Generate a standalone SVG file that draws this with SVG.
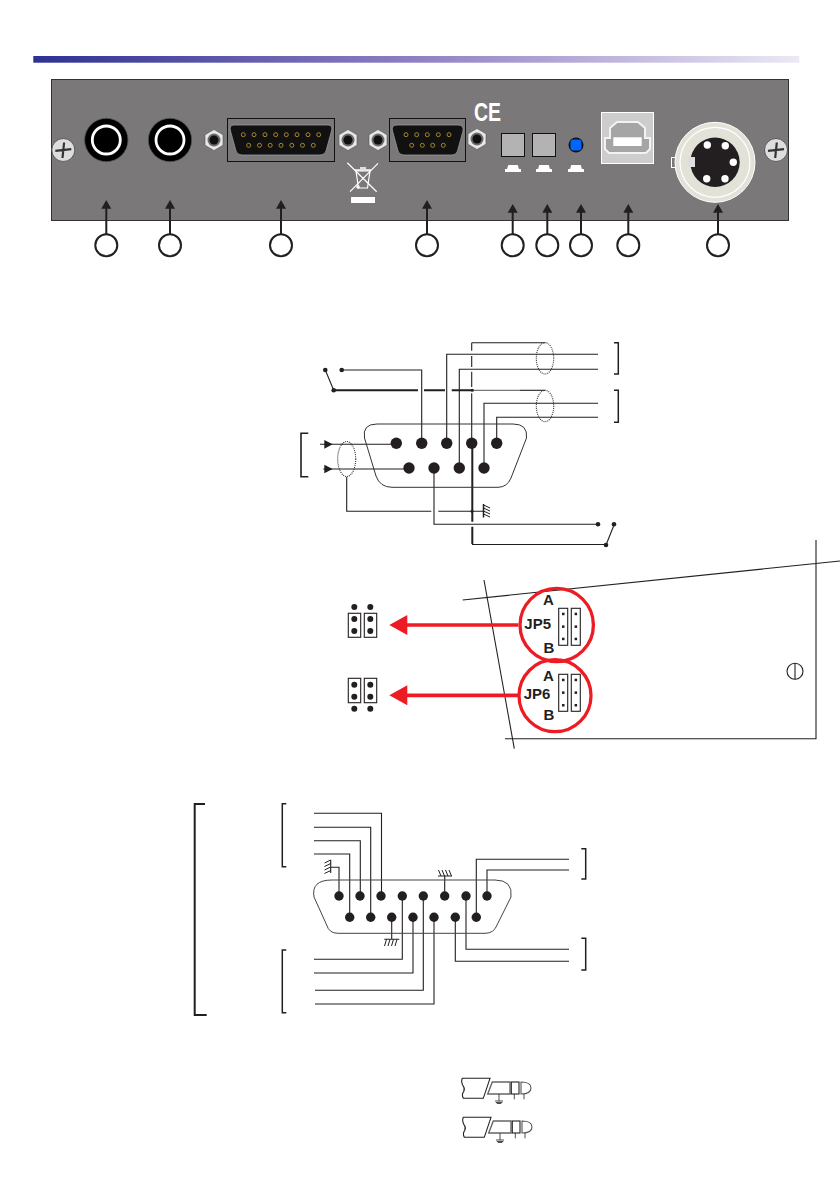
<svg xmlns="http://www.w3.org/2000/svg" xmlns:xlink="http://www.w3.org/1999/xlink" width="840" height="1192" viewBox="0 0 840 1192">
<style>
.w{fill:none;stroke:#231f20;stroke-width:1.100}
.tk{fill:none;stroke:#231f20;stroke-width:2}
.br{fill:none;stroke:#231f20;stroke-width:1.500}
.sh{fill:none;stroke:#333;stroke-width:1.100;stroke-dasharray:1 1}
.d{fill:#231f20}
.call{fill:none;stroke:#231f20;stroke-width:2}
.callbg{fill:#fff;stroke:#231f20;stroke-width:2}
.red{fill:none;stroke:#ed1c24;stroke-width:3.300}
.lab{font-family:"Liberation Sans",Arial,sans-serif;font-weight:700;font-size:15px;fill:#231f20;text-anchor:middle}
.g{fill:none;stroke:#231f20;stroke-width:1}
.pn{fill:#111;stroke:#a8862f;stroke-width:1}
.hx{fill:#e8e8e8;stroke:#555;stroke-width:.6}
.m{fill:#fff}
</style>
<defs>
<linearGradient id="bar" x1="0" x2="1" y1="0" y2="0">
<stop offset="0" stop-color="#2e3192"/><stop offset=".5" stop-color="#8f80c4"/><stop offset="1" stop-color="#ece8f5"/>
</linearGradient>
<g id="nut"><polygon class="hx" points="0,-10.5 9,-5.2 9,5.2 0,10.5 -9,5.2 -9,-5.2"/><circle r="6.500" fill="#6a6a6a"/><circle r="4.500" fill="#111"/></g>
<g id="screw"><circle r="11.500" fill="#ddd" stroke="#444" stroke-width=".8"/><path d="M-8,.8L8,-.8M.8,-7.500L-.8,8" stroke="#333" stroke-width="2.200" fill="none"/></g>
<g id="jack"><circle r="21.700" fill="#000" stroke="#555" stroke-width=".8"/><circle r="14" fill="#000" stroke="#fff" stroke-width="2.800"/></g>
<g id="btnmark"><path class="m" d="M3.300,0H12.700L14,4H16V7H0V4H2Z"/></g>
<path id="up" d="M0,0L5,8.700H-5Z" fill="#231f20"/>
<g id="plug">
<path d="M0,0H27.700L21,20H1Q-1,16 1.500,13Q3,10 .5,7Q-1.500,3 0,0Z" class="w"/>
<path d="M30,3.700H47.700V15.700H25.400Z" fill="none" stroke="#666" stroke-width="1.400"/>
<rect x="49" y="3.700" width="7.700" height="12" class="w"/>
<path d="M58.700,3.700Q68.700,3.700 68.700,9.700Q68.700,15.700 58.700,15.700Z" fill="none" stroke="#555" stroke-width="1.100"/>
<path d="M36.700,15.700V22.700M32.700,22.700H40.700M33.500,24.200H40M34.500,25.200H39M52,15.700V21M61.700,15.700V21" class="g" style="stroke-width:.8"/>
</g>
</defs>
<rect width="840" height="1192" fill="#fff"/>
<rect id="title-bar" x="33.300" y="56" width="766" height="6.700" fill="url(#bar)"/>

<g id="panel">
<rect x="51.500" y="79.500" width="737" height="141" fill="#7a7879" stroke="#333" stroke-width="1"/>
<use xlink:href="#screw" x="63.300" y="150"/>
<use xlink:href="#screw" x="776" y="150"/>
</g>
<g id="jack1"><use xlink:href="#jack" x="106.300" y="140"/></g>
<g id="jack2"><use xlink:href="#jack" x="170" y="140"/></g>
<g id="nuts">
<use xlink:href="#nut" x="214" y="140"/><use xlink:href="#nut" x="348" y="140"/><use xlink:href="#nut" x="378" y="140"/><use xlink:href="#nut" x="477" y="139"/>
</g>
<g id="db15">
<rect x="227.500" y="118.500" width="107" height="43" fill="none" stroke="#111" stroke-width="1"/>
<path d="M234,125H328Q333,125 331.500,131L326,151Q325,155 320,155H242Q237,155 236,151L230.500,131Q229,125 234,125Z" fill="#111" stroke="#999" stroke-width=".8"/>
<g class="pn">
<circle cx="243.300" cy="134.700" r="2"/><circle cx="254" cy="134.700" r="2"/><circle cx="265" cy="134.700" r="2"/><circle cx="275.700" cy="134.700" r="2"/><circle cx="286.300" cy="134.700" r="2"/><circle cx="297" cy="134.700" r="2"/><circle cx="308" cy="134.700" r="2"/><circle cx="318.700" cy="134.700" r="2"/>
<circle cx="248.700" cy="145.300" r="2"/><circle cx="259.500" cy="145.300" r="2"/><circle cx="270.200" cy="145.300" r="2"/><circle cx="281" cy="145.300" r="2"/><circle cx="291.800" cy="145.300" r="2"/><circle cx="302.500" cy="145.300" r="2"/><circle cx="313.300" cy="145.300" r="2"/>
</g>
</g>
<g id="weee">
<path d="M347.300,162.700L376.700,191.700M378,163.300L350,191.700" stroke="#fff" stroke-width="1.200" fill="none"/>
<path d="M356,171H370L367.500,188H358.500Z" fill="none" stroke="#fff" stroke-width="1.200"/>
<path d="M354.500,170H371M360,168H366" stroke="#fff" stroke-width="1.500" fill="none"/>
<circle cx="358" cy="187" r="1.800" fill="#fff"/>
<rect x="351" y="197" width="24" height="6" fill="#fff"/>
</g>
<g id="db9">
<rect x="389.500" y="118.500" width="76" height="43" fill="none" stroke="#111" stroke-width="1"/>
<path d="M397,125H458Q464,125 463,131L457.500,151Q456.500,155 452,155H404Q399,155 398,151L392.500,131Q391,125 397,125Z" fill="#111" stroke="#999" stroke-width=".8"/>
<g class="pn">
<circle cx="406" cy="134.700" r="2"/><circle cx="416.700" cy="134.700" r="2"/><circle cx="427.300" cy="134.700" r="2"/><circle cx="438.300" cy="134.700" r="2"/><circle cx="449" cy="134.700" r="2"/>
<circle cx="411.700" cy="145.300" r="2"/><circle cx="422.300" cy="145.300" r="2"/><circle cx="432.700" cy="145.300" r="2"/><circle cx="443.300" cy="145.300" r="2"/>
</g>
</g>
<text id="ce" x="474" y="120.500" font-family="'Liberation Sans',Arial,sans-serif" font-size="26" font-weight="700" fill="#fff" textLength="27" lengthAdjust="spacingAndGlyphs">CE</text>
<g id="button1"><rect x="501.500" y="133.500" width="23" height="23" fill="#b3b3b3" stroke="#111" stroke-width="1"/><use xlink:href="#btnmark" x="505" y="165"/></g>
<g id="button2"><rect x="532.500" y="133.500" width="23" height="23" fill="#b3b3b3" stroke="#111" stroke-width="1"/><use xlink:href="#btnmark" x="536" y="165"/></g>
<g id="led"><circle cx="576" cy="145" r="7.500" fill="#111"/><rect x="570.500" y="139.500" width="11" height="11" rx="3" fill="#0066ff"/><use xlink:href="#btnmark" x="568" y="165"/></g>
<g id="usb">
<rect x="601.500" y="112.500" width="52" height="51" fill="#cdcdcd" stroke="#fff" stroke-width="1"/>
<path d="M610,138V128L617,122H638L645,128V138H650V149L646,153H609L605,149V138Z" fill="#a5a5a5" stroke="#f2f2f2" stroke-width="2"/>
<rect x="613.300" y="137.300" width="28.400" height="8.700" fill="#fff"/>
</g>
<g id="xlr">
<rect x="671.500" y="157.500" width="5" height="10" fill="none" stroke="#fff" stroke-width="1"/>
<circle cx="715" cy="162.300" r="40" fill="#e3e2d8" stroke="#fff" stroke-width="1"/>
<circle cx="715" cy="162.300" r="35" fill="none" stroke="#fff" stroke-width="1.200"/>
<circle cx="715" cy="162.300" r="24.700" fill="#231f20"/>
<rect x="688" y="157" width="7" height="10" fill="#ddd"/>
<g fill="#fff"><circle cx="707.300" cy="145" r="3.700"/><circle cx="725.300" cy="145.700" r="3.700"/><circle cx="733.300" cy="162.300" r="3.700"/><circle cx="725" cy="178.700" r="3.700"/><circle cx="706.700" cy="178.700" r="3.700"/></g>
</g>

<g id="callouts">
<path class="call" d="M106.300,208V234M170,208V234M281,208V234M427,208V234M512.700,212V234M547.300,212V234M581,212V234M628.300,212V234M718,212V234"/>
<use xlink:href="#up" x="106.300" y="200"/><use xlink:href="#up" x="170" y="200"/><use xlink:href="#up" x="281" y="200"/><use xlink:href="#up" x="427" y="200"/>
<use xlink:href="#up" x="512.700" y="204"/><use xlink:href="#up" x="547.300" y="204"/><use xlink:href="#up" x="581" y="204"/><use xlink:href="#up" x="628.300" y="204"/><use xlink:href="#up" x="718" y="204"/>
<g id="c1"><circle class="callbg" cx="106.300" cy="245.300" r="11"/></g>
<g id="c2"><circle class="callbg" cx="170" cy="245.300" r="11"/></g>
<g id="c3"><circle class="callbg" cx="281" cy="245.300" r="11"/></g>
<g id="c4"><circle class="callbg" cx="427" cy="245.300" r="11"/></g>
<g id="c5"><circle class="callbg" cx="512.700" cy="245.300" r="11"/></g>
<g id="c6"><circle class="callbg" cx="547.300" cy="245.300" r="11"/></g>
<g id="c7"><circle class="callbg" cx="581" cy="245.300" r="11"/></g>
<g id="c8"><circle class="callbg" cx="628.300" cy="245.300" r="11"/></g>
<g id="c9"><circle class="callbg" cx="718" cy="245.300" r="11"/></g>
</g>

<g id="db9-connectors">
<path class="w" d="M341.700,370H421.700V443"/>
<path class="w" d="M446.700,443V354.300H598M459.300,468V369.300H598M484,468V403.300H598M496.700,443V417.300H598"/>
<path class="w" d="M471.700,342.700H545M471.700,342.700V350.700M471.700,356V367M471.700,371.700V387"/>
<path class="w" d="M471.700,393.300V443"/>
<path class="tk" d="M333.700,390.300H418M424,390.300H445M451.700,390.300H472"/>
<path d="M472,390.300H520" stroke="#777" stroke-width="1.200" fill="none"/>
<path class="w" d="M520,390.300H545"/>
<path class="w" d="M325.300,370L333.700,390.300M606,545L614,525"/>
<path class="w" d="M320,444.300H396M323.300,469H409"/>
<path class="w" d="M346.700,477V511.300H431.300M438.300,511.300H483.300"/>
<path class="tk" d="M472.300,443V521.700M472.300,526.700V544"/>
<path class="w" d="M472,544.500H606M434,468V524.300H598"/>
<path class="br" d="M483.500,504V517.500"/>
<path class="g" d="M483.500,505L490,508M483.500,508L490,511M483.500,511L490,514M483.500,514L490,517"/>
<path class="d" d="M324.300,440L332.700,444.300L324.300,448.700ZM324.300,464.700L332.700,469L324.300,473.300Z"/>
<ellipse class="sh" cx="545" cy="358.300" rx="8.700" ry="15.700"/>
<ellipse class="sh" cx="545" cy="406" rx="8.700" ry="15.700"/>
<ellipse class="sh" cx="346.700" cy="459" rx="9" ry="17.500"/>
<path class="br" d="M614,342.700H618.300V374H614M614,390.300H618.300V422.300H614"/>
<path class="tk" d="M308.300,433.300H301V476.700H308.300" style="stroke-width:1.600"/>
</g>
<g id="db9-diagram">
<path d="M377,424H513Q528,424 526.500,438L511,478Q507,487.300 498,487.300H392Q380,487.300 376,476L364.500,438Q362,424 377,424Z" fill="none" stroke="#333" stroke-width="1"/>
<g class="d">
<circle cx="396.300" cy="443.300" r="5.700"/><circle cx="421.700" cy="443.300" r="5.700"/><circle cx="446.700" cy="443.300" r="5.700"/><circle cx="471.700" cy="443.300" r="5.700"/><circle cx="496.700" cy="443.300" r="5.700"/>
<circle cx="409" cy="468" r="5.700"/><circle cx="434" cy="468" r="5.700"/><circle cx="459.300" cy="468" r="5.700"/><circle cx="484" cy="468" r="5.700"/>
<circle cx="325.300" cy="370" r="2.300"/><circle cx="341.700" cy="370" r="2.300"/><circle cx="333.700" cy="390.300" r="2.300"/>
<circle cx="598" cy="524.300" r="2.300"/><circle cx="614" cy="524.300" r="2.300"/><circle cx="606" cy="545" r="2.300"/>
<circle cx="472" cy="511.300" r="1.500"/><circle cx="472.300" cy="390.300" r="1.500"/>
</g>
</g>

<g id="chassis">
<path class="w" d="M462.700,600L840,561M484,580L514.300,748.700M505,738.700H816V540"/>
<circle cx="795" cy="671.300" r="8" class="w"/><path class="w" d="M795,663.300V679.300"/>
</g>
<g id="jp5">
<circle class="red" cx="556.700" cy="625" r="36.700"/>
<text class="lab" x="548.300" y="604.700">A</text><text class="lab" x="537.700" y="629">JP5</text><text class="lab" x="549" y="652.700">B</text>
<rect class="w" x="558.700" y="608.300" width="9" height="37"/><rect class="w" x="571.300" y="608.300" width="9" height="37"/>
<g class="d"><rect x="562" y="612.700" width="2.500" height="2.500"/><rect x="562" y="625.400" width="2.500" height="2.500"/><rect x="562" y="637.700" width="2.500" height="2.500"/><rect x="574.600" y="612.700" width="2.500" height="2.500"/><rect x="574.600" y="625.400" width="2.500" height="2.500"/><rect x="574.600" y="637.700" width="2.500" height="2.500"/></g>
</g>
<g id="jp6">
<circle class="red" cx="555" cy="695.700" r="36"/>
<text class="lab" x="548.300" y="681">A</text><text class="lab" x="537" y="699">JP6</text><text class="lab" x="549" y="720.300">B</text>
<rect class="w" x="558.700" y="674.300" width="9" height="37"/><rect class="w" x="571.300" y="674.300" width="9" height="37"/>
<g class="d"><rect x="562" y="678.700" width="2.500" height="2.500"/><rect x="562" y="691.400" width="2.500" height="2.500"/><rect x="562" y="704" width="2.500" height="2.500"/><rect x="574.600" y="678.700" width="2.500" height="2.500"/><rect x="574.600" y="691.400" width="2.500" height="2.500"/><rect x="574.600" y="704" width="2.500" height="2.500"/></g>
</g>
<g id="jumper-arrows">
<path class="red" d="M518.300,625H405M518.300,695.300H405" style="stroke-width:3.700"/>
<path fill="#ed1c24" d="M389.300,625L407.300,615V635ZM389.300,695.300L407.300,685.300V705.300Z"/>
</g>
<g id="jumper-a">
<rect class="w" x="348.300" y="613.300" width="12.400" height="24"/><rect class="w" x="364.300" y="613.300" width="12.400" height="24"/>
<g class="d"><circle cx="354.300" cy="607" r="3"/><circle cx="354.300" cy="619" r="3"/><circle cx="354.300" cy="631" r="3"/><circle cx="370.300" cy="607" r="3"/><circle cx="370.300" cy="619" r="3"/><circle cx="370.300" cy="631" r="3"/></g>
</g>
<g id="jumper-b">
<rect class="w" x="348.300" y="678.300" width="12.400" height="24.400"/><rect class="w" x="364.300" y="678.300" width="12.400" height="24.400"/>
<g class="d"><circle cx="354.300" cy="684.700" r="3"/><circle cx="354.300" cy="696.700" r="3"/><circle cx="354.300" cy="708.700" r="3"/><circle cx="370.300" cy="684.700" r="3"/><circle cx="370.300" cy="696.700" r="3"/><circle cx="370.300" cy="708.700" r="3"/></g>
</g>

<g id="db15-connectors">
<path class="w" d="M314,813.300H381.500V896M314,827.300H370.700V917M314,840.700H360.300V896M314,854H349.700V917"/>
<path class="w" d="M339,896V867.300H330.700M330.700,860V873"/>
<path class="g" d="M330.700,860L324.500,863M330.700,863.500L324.500,866.500M330.700,867L324.500,870M330.700,870.500L324.500,873.500"/>
<path class="w" d="M487,896V870H569M476.300,917V859.300H569"/>
<path class="w" d="M444.700,896V876M438,876H452"/>
<path class="g" d="M441,876L438.500,870M444.500,876L442,870M448,876L445.500,870M451.500,876L449,870"/>
<path class="w" d="M391.700,917V939.300M384.300,939.300H399.300"/>
<path class="g" d="M386.500,939.300L384.500,946M390,939.300L388,946M393.500,939.300L391.500,946M397,939.300L395,946"/>
<path class="w" d="M402.300,896V959.300H314M413,917V973H314M423.300,896V990.300H315M434,917V1004H315"/>
<path class="w" d="M466,896V949.300H569M455.300,917V961.300H569"/>
<path class="tk" d="M205,804H194.700V1015H206.700"/>
<path class="br" d="M286.300,803.700H282.300V866.700H286.300M286.300,950H282.300V1012.700H286.300"/>
<path class="br" d="M581.300,848.700H585.700V879H581.300M581.300,938.300H585.700V970H581.300"/>
</g>
<g id="db15-diagram">
<path d="M332,880H495Q513,880 511,897L497,925Q494,933.300 485,933.300H338Q329,933.300 326.700,925L314,897Q311,880 332,880Z" fill="none" stroke="#444" stroke-width="1"/>
<g class="d">
<circle cx="339" cy="896" r="4.700"/><circle cx="360" cy="896" r="4.700"/><circle cx="381" cy="896" r="4.700"/><circle cx="402.300" cy="896" r="4.700"/><circle cx="423.300" cy="896" r="4.700"/><circle cx="444.700" cy="896" r="4.700"/><circle cx="466" cy="896" r="4.700"/><circle cx="487" cy="896" r="4.700"/>
<circle cx="349.700" cy="917.300" r="4.700"/><circle cx="370.700" cy="917.300" r="4.700"/><circle cx="391.700" cy="917.300" r="4.700"/><circle cx="413" cy="917.300" r="4.700"/><circle cx="434" cy="917.300" r="4.700"/><circle cx="455.300" cy="917.300" r="4.700"/><circle cx="476.300" cy="917.300" r="4.700"/>
</g>
</g>

<g id="plug-a"><use xlink:href="#plug" x="462.300" y="1078.300"/></g>
<g id="plug-b"><use xlink:href="#plug" x="463.300" y="1117.300"/></g>
</svg>
